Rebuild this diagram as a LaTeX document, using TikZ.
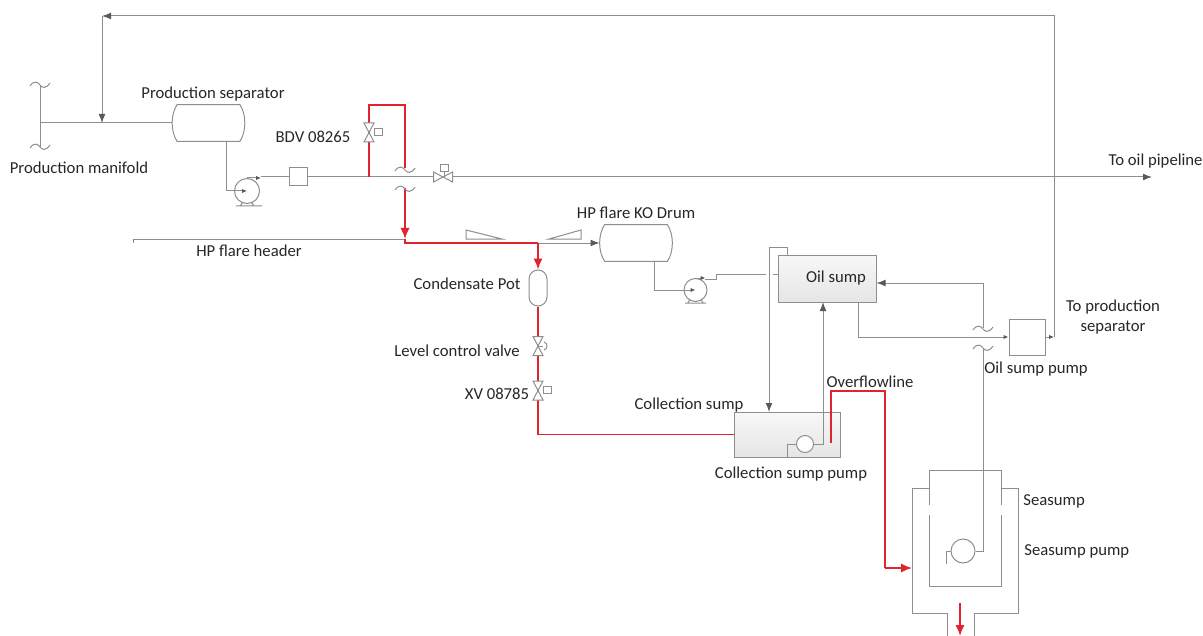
\documentclass[tikz,border=0pt]{standalone}
\usepackage{fontspec}
\setmainfont{Carlito}
\usetikzlibrary{arrows.meta, positioning}
\definecolor{pipeGray}{HTML}{8E8E8E}
\definecolor{flareRed}{HTML}{E0242E}
\definecolor{labelInk}{HTML}{262626}
\begin{document}
\begin{tikzpicture}[
		x=0.5pt, y=-0.5pt,
		node distance=2pt,
		every node/.style={font=\fontsize{8.35}{10}\selectfont, text=labelInk, inner sep=0pt},
		pipe/.style={draw=pipeGray, line width=0.5pt},
		flow/.style={pipe, -{Latex[length=4.5pt, width=3.4pt, color=black!65]}},
		smallflow/.style={pipe, -{Latex[length=2.5pt, width=2.2pt, color=black!65]}},
		flare/.style={draw=flareRed, line width=0.9pt},
		flareflow/.style={flare, -{Latex[length=5.5pt, width=4.6pt]}},
		box/.style={draw=pipeGray, line width=0.5pt, fill=white, minimum width=#1},
		sump/.style={draw=pipeGray, line width=0.5pt, top color=black!3, bottom color=black!10},
		pumpwheel/.style={circle, draw=pipeGray, line width=0.5pt, fill=white, minimum size=#1},
		drum/.style={minimum width=36pt, minimum height=18pt},
		valve/.pic={
			\draw[pipe, fill=white] (-5,-9.5) -- (5,-9.5) -- (-5,9.5) -- (5,9.5) -- cycle;
		},
		breakmark/.pic={
			\draw[pipe] (-10,1) .. controls (-6,-5) and (-2,-3) .. (0,0) .. controls (2,3) and (6,4) .. (10,-2);
		}
	]
		\useasboundingbox (0,0) rectangle (1203,636);

		% vessels and boxes
		\node[drum] (prodsep) at (208.5,123) {};
		\node[drum] (kodrum) at (636,243) {};
		\node[draw=pipeGray, line width=0.5pt, rounded corners=4.5pt, minimum width=9pt, minimum height=18pt] (condpot) at (538,288) {};
		\node[box=9pt, minimum height=9pt] (filter) at (298,177) {};
		\node[box=18pt, minimum height=18pt] (oilpump) at (1027,337) {};
		\node[sump, minimum width=49pt, minimum height=23.5pt] (oilsump) at (827,278.5) {};
		\node[sump, minimum width=53pt, minimum height=22.5pt] (collsump) at (787,434.5) {};

		\foreach \n in {prodsep, kodrum}
			\draw[pipe] ([xshift=2.5pt]\n.north west) -- ([xshift=-2.5pt]\n.north east)
				.. controls ([xshift=0.8pt, yshift=-5pt]\n.north east) and ([xshift=0.8pt, yshift=5pt]\n.south east) .. ([xshift=-2.5pt]\n.south east)
				-- ([xshift=2.5pt]\n.south west)
				.. controls ([xshift=-0.8pt, yshift=5pt]\n.south west) and ([xshift=-0.8pt, yshift=-5pt]\n.north west) .. cycle;

		% junctions
		\coordinate (manifold) at (40,123);
		\coordinate (mantop) at (40,85);
		\coordinate (manbot) at (40,148);
		\coordinate (returnin) at (102,123);
		\coordinate (bdvtee) at (369,177);
		\coordinate (flarebreak) at (405,168);
		\coordinate (flareresume) at (405,188);
		\coordinate (headerend) at (405,239);
		\coordinate (headerstart) at (133,239);
		\coordinate (flaretee) at (405,243);
		\coordinate (kotee) at (538,243);
		\coordinate (oilpipe) at (1152,177);
		\coordinate (retcorner) at (1054,16);

		% production line
		\draw[pipe] (mantop) -- (manbot);
		\pic at (40,85) {breakmark};
		\pic at (40,147) {breakmark};
		\draw[pipe] (manifold) -- (prodsep.west);
		\draw[pipe] (headerstart) ++(0,4) -- (headerstart) -- (headerend);
		\node[pumpwheel=12.5pt] (sepump) at (247,191) {};
		\draw[pipe] (236,206) -- (262,206) (240,206) -- (243,202) (254,206) -- (251,202);
		\draw[smallflow] (226,141) -- (226,191) -- (sepump.center);
		\draw[smallflow] (sepump.north) -- ++(14,0);
		\draw[pipe] (261,177) -- (filter.west);
		\draw[flow] (filter.east) -- (oilpipe);

		% return to separator
		\draw[smallflow] (oilpump.east) -- (1054,337);
		\draw[flow] (1054,337) -- (retcorner) -- (102,16);
		\draw[flow] (102,16) -- (returnin);

		% flare lines
		\draw[flare] (bdvtee) -- (369,105) -- (405,105) -- (flarebreak);
		\draw[flareflow] (flareresume) -- (headerend);
		\draw[flare] (headerend) -- (flaretee) -- (kotee);
		\draw[flow] (kotee) -- (kodrum.west);
		\draw[flareflow] (kotee) -- (condpot.north);
		\draw[flare] (condpot.south) -- (538,434.5) -- (collsump.west);
		\pic at (405,170) {breakmark};
		\pic at (405,189) {breakmark};
		\draw[pipe, fill=white] (466,230) -- (466,239) -- (502,239) -- cycle;
		\draw[pipe, fill=white] (581,230) -- (581,239) -- (549,239) -- cycle;

		% valves
		\pic at (369,132.5) {valve};
		\node[box=4pt, minimum height=3.5pt] (bdvact) at (378,132.5) {};
		\pic at (538,346) {valve};
		\draw[pipe] (538,346) -- (543,346);
		\draw[pipe] (544,342) .. controls (548,343) and (548,349) .. (544,350);
		\pic at (538,390.5) {valve};
		\node[box=4pt, minimum height=3.5pt] (xvact) at (547,390) {};
		\pic[rotate=90] at (443,177) {valve};
		\node[box=4pt, minimum height=3.5pt] (oilact) at (444,168) {};
		\draw[pipe] (oilact.south) -- (444,177);

		% KO drum to oil sump
		\node[pumpwheel=11.5pt] (kopump) at (695.5,290) {};
		\draw[pipe] (685,303) -- (706,303) (688,303) -- (690,299) (703,303) -- (701,299);
		\draw[smallflow] (654,261) -- (654,290) -- (kopump.center);
		\draw[smallflow] (kopump.north) -- ++(10,0);
		\draw[pipe] (705,279) -- (716,279) -- (716,274) -- (766,274);
		\draw[pipe] (773,274) -- (oilsump.west |- 0,274);
		\draw[flow] (787,255) -- (787,247) -- (769,247) -- (769,412);

		% collection sump
		\node[pumpwheel=8.5pt] (collpump) at (805,444) {};
		\draw[pipe] (collpump.west) -- (787,444) -- (787,457);
		\draw[flow] (collpump.east) -- (823,444) -- (823,302);
		\draw[flare] (831,443) -- (831,391) -- (885,391) -- (885,568);
		\draw[flareflow] (885,568) -- (912,568);

		% oil sump to pump
		\draw[smallflow] (858,302) -- (858,337) -- (oilpump.west);
		\draw[flow] (983,328) -- (983,283) -- (oilsump.east |- 0,283);
		\pic at (983,329) {breakmark};
		\pic at (983,348) {breakmark};

		% seasump
		\draw[pipe] (912,568) -- (912,488) -- (929,488) -- (929,505);
		\draw[pipe] (929,515) -- (929,586) -- (1001,586) -- (1001,515);
		\draw[pipe] (1001,505) -- (1001,470) -- (929,470) -- (929,488);
		\draw[pipe] (1001,488) -- (1018,488) -- (1018,613) -- (974,613) -- (974,636);
		\draw[pipe] (912,568) -- (912,613) -- (947,613) -- (947,636);
		\node[pumpwheel=12pt] (seapump) at (963,551) {};
		\draw[pipe] (seapump.west) -- (946,551) -- (946,564);
		\draw[pipe] (seapump.east) -- (983,551) -- (983,348);
		\draw[flareflow] (960,603) -- (960,636);

		% labels
		\node (lprodsep) at (213,94.5) {Production separator};
		\node (lmanifold) at (79,167.5) {Production manifold};
		\node (lbdv) at (313,136.5) {BDV 08265};
		\node (lheader) at (249,250.5) {HP flare header};
		\node[above=3pt of kodrum] (lkodrum) {HP flare KO Drum};
		\node[anchor=east] (lpipeline) at (1203,161.5) {To oil pipeline};
		\node (lcondpot) at (467,283.5) {Condensate Pot};
		\node (llevel) at (457,350.5) {Level control valve};
		\node (lxv) at (497,393.5) {XV 08785};
		\node (lcollsump) at (689,405.5) {Collection sump};
		\node (lcollpump) at (791,474.5) {Collection sump pump};
		\node (loverflow) at (870,381.5) {Overflowline};
		\node (loilsump) at (836,278.5) {Oil sump};
		\node[align=center] (lprodret) at (1113,317.5) {To production\\separator};
		\node (loilpump) at (1036,369.5) {Oil sump pump};
		\node[anchor=west] (lseasump) at (1023,501.5) {Seasump};
		\node[anchor=west] (lseapump) at (1024,551.5) {Seasump pump};
	\end{tikzpicture}
\end{document}
